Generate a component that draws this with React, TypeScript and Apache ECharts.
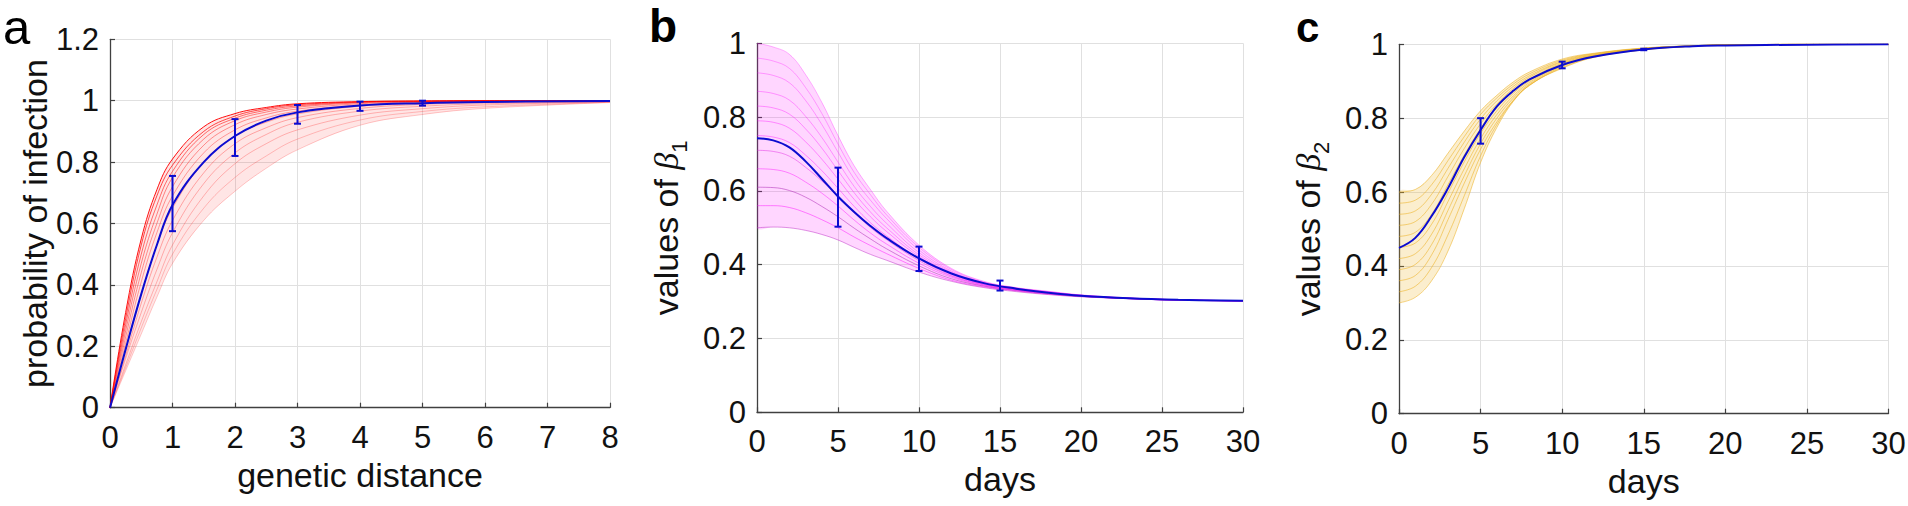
import React, { useEffect, useRef } from "react";
import * as echarts from "echarts";

// ---------------- data ----------------
// panel a: probability of infection vs genetic distance
const A_X = [0, 0.25, 0.5, 0.75, 1, 1.5, 2, 2.5, 3, 4, 5, 6, 8];
const A_CURVES = [
  [0, 0.31, 0.55, 0.71, 0.81, 0.915, 0.958, 0.978, 0.99, 0.997, 0.999, 1, 1],
  [0, 0.29, 0.53, 0.69, 0.79, 0.9, 0.95, 0.974, 0.987, 0.996, 0.999, 1, 1],
  [0, 0.27, 0.5, 0.66, 0.77, 0.89, 0.943, 0.969, 0.983, 0.995, 0.998, 0.999, 1],
  [0, 0.25, 0.47, 0.63, 0.75, 0.875, 0.935, 0.963, 0.979, 0.993, 0.997, 0.999, 1],
  [0, 0.23, 0.44, 0.6, 0.72, 0.855, 0.922, 0.955, 0.973, 0.99, 0.996, 0.998, 1],
  [0, 0.21, 0.41, 0.57, 0.69, 0.83, 0.905, 0.944, 0.966, 0.986, 0.994, 0.997, 0.999],
  [0, 0.19, 0.37, 0.53, 0.65, 0.8, 0.885, 0.93, 0.957, 0.982, 0.992, 0.996, 0.999],
  [0, 0.17, 0.34, 0.49, 0.61, 0.765, 0.86, 0.912, 0.945, 0.975, 0.988, 0.994, 0.998],
  [0, 0.16, 0.31, 0.45, 0.57, 0.73, 0.83, 0.89, 0.93, 0.966, 0.982, 0.99, 0.997],
  [0, 0.14, 0.28, 0.41, 0.53, 0.69, 0.795, 0.86, 0.905, 0.953, 0.974, 0.986, 0.996],
  [0, 0.13, 0.26, 0.385, 0.5, 0.65, 0.75, 0.82, 0.875, 0.937, 0.965, 0.98, 0.995],
  [0, 0.12, 0.24, 0.36, 0.47, 0.61, 0.705, 0.78, 0.84, 0.92, 0.955, 0.975, 0.994],
];
const A_OPAC = [0.95, 0.7, 0.55, 0.45, 0.4, 0.35, 0.3, 0.3, 0.27, 0.25, 0.22, 0.2];
const A_MEAN = [0, 0.19, 0.37, 0.53, 0.66, 0.8, 0.885, 0.935, 0.962, 0.984, 0.992, 0.996, 0.999];
const A_ERR = [
  [1, 0.575, 0.755],
  [2, 0.82, 0.94],
  [3, 0.925, 0.986],
  [4, 0.967, 0.997],
  [5, 0.984, 1.0],
];

// panel b: values of beta1 vs days
const B_X = [0, 1, 2, 3, 4, 5, 6, 7, 8, 10, 12, 14, 16, 18, 20, 23, 26, 30];
const B_CURVES = [
  [1.0, 0.99, 0.97, 0.915, 0.84, 0.75, 0.668, 0.604, 0.545, 0.453, 0.39, 0.355, 0.338, 0.328, 0.318, 0.31, 0.305, 0.302],
  [0.96, 0.952, 0.932, 0.88, 0.81, 0.727, 0.65, 0.59, 0.535, 0.447, 0.387, 0.353, 0.337, 0.327, 0.318, 0.31, 0.305, 0.302],
  [0.92, 0.913, 0.893, 0.845, 0.78, 0.705, 0.632, 0.575, 0.525, 0.44, 0.383, 0.351, 0.336, 0.326, 0.317, 0.309, 0.305, 0.302],
  [0.87, 0.864, 0.846, 0.802, 0.745, 0.678, 0.612, 0.558, 0.512, 0.433, 0.38, 0.35, 0.335, 0.325, 0.317, 0.309, 0.305, 0.302],
  [0.83, 0.825, 0.808, 0.768, 0.716, 0.655, 0.595, 0.543, 0.5, 0.427, 0.377, 0.348, 0.334, 0.324, 0.316, 0.309, 0.305, 0.302],
  [0.79, 0.786, 0.77, 0.733, 0.686, 0.632, 0.577, 0.53, 0.49, 0.422, 0.374, 0.347, 0.333, 0.324, 0.316, 0.309, 0.305, 0.302],
  [0.75, 0.746, 0.731, 0.697, 0.655, 0.607, 0.558, 0.514, 0.478, 0.416, 0.371, 0.346, 0.333, 0.323, 0.316, 0.308, 0.304, 0.302],
  [0.71, 0.707, 0.694, 0.664, 0.627, 0.585, 0.541, 0.501, 0.468, 0.411, 0.369, 0.345, 0.332, 0.323, 0.315, 0.308, 0.304, 0.302],
  [0.66, 0.658, 0.648, 0.624, 0.594, 0.559, 0.521, 0.486, 0.456, 0.404, 0.366, 0.343, 0.331, 0.322, 0.315, 0.308, 0.304, 0.302],
  [0.61, 0.609, 0.601, 0.583, 0.558, 0.53, 0.499, 0.47, 0.443, 0.397, 0.362, 0.342, 0.33, 0.321, 0.314, 0.308, 0.304, 0.302],
  [0.56, 0.56, 0.555, 0.541, 0.522, 0.5, 0.475, 0.452, 0.43, 0.39, 0.358, 0.34, 0.329, 0.32, 0.314, 0.308, 0.304, 0.302],
  [0.5, 0.502, 0.5, 0.493, 0.482, 0.467, 0.447, 0.428, 0.412, 0.38, 0.355, 0.338, 0.327, 0.319, 0.313, 0.308, 0.304, 0.302],
];
const B_COLORS = ["#ff00ff", "#ff00ff", "#ff00ff", "#ff00ff", "#ff00ff", "#ff00ff", "#ff00ff", "#e020e0", "#ff00ff", "#b030b8", "#ff00ff", "#c030c8"];
const B_OPAC = [0.3, 0.3, 0.32, 0.34, 0.36, 0.38, 0.4, 0.45, 0.42, 0.55, 0.45, 0.5];
const B_MEAN = [0.743, 0.737, 0.718, 0.68, 0.633, 0.585, 0.543, 0.505, 0.472, 0.417, 0.376, 0.35, 0.335, 0.324, 0.316, 0.309, 0.305, 0.302];
const B_ERR = [
  [5, 0.503, 0.663],
  [10, 0.383, 0.449],
  [15, 0.33, 0.357],
];

// panel c: values of beta2 vs days
const C_X = [0, 1, 2, 3, 4, 5, 6, 7, 8, 10, 12, 15, 18, 20, 25, 30];
const C_CURVES = [
  [0.6, 0.607, 0.645, 0.705, 0.765, 0.82, 0.862, 0.898, 0.925, 0.96, 0.976, 0.99, 0.996, 0.998, 1, 1],
  [0.57, 0.578, 0.62, 0.685, 0.75, 0.81, 0.855, 0.892, 0.92, 0.957, 0.975, 0.989, 0.996, 0.998, 1, 1],
  [0.54, 0.549, 0.594, 0.664, 0.735, 0.798, 0.847, 0.886, 0.915, 0.954, 0.974, 0.989, 0.996, 0.998, 1, 1],
  [0.51, 0.52, 0.567, 0.642, 0.718, 0.785, 0.838, 0.88, 0.911, 0.952, 0.972, 0.988, 0.996, 0.998, 1, 1],
  [0.48, 0.491, 0.54, 0.62, 0.7, 0.772, 0.829, 0.873, 0.906, 0.949, 0.971, 0.988, 0.995, 0.998, 1, 1],
  [0.45, 0.462, 0.513, 0.597, 0.682, 0.759, 0.82, 0.867, 0.901, 0.947, 0.97, 0.987, 0.995, 0.998, 1, 1],
  [0.42, 0.433, 0.486, 0.574, 0.663, 0.745, 0.81, 0.86, 0.897, 0.944, 0.969, 0.987, 0.995, 0.998, 1, 1],
  [0.39, 0.404, 0.458, 0.55, 0.644, 0.731, 0.8, 0.854, 0.893, 0.942, 0.968, 0.986, 0.995, 0.998, 1, 1],
  [0.36, 0.374, 0.43, 0.525, 0.624, 0.716, 0.79, 0.848, 0.889, 0.94, 0.967, 0.986, 0.995, 0.998, 1, 1],
  [0.33, 0.345, 0.396, 0.484, 0.59, 0.698, 0.783, 0.847, 0.889, 0.937, 0.966, 0.985, 0.995, 0.998, 1, 1],
  [0.3, 0.315, 0.36, 0.44, 0.555, 0.68, 0.775, 0.845, 0.89, 0.935, 0.965, 0.985, 0.995, 0.998, 1, 1],
];
const C_MEAN = [0.449, 0.476, 0.535, 0.61, 0.695, 0.768, 0.832, 0.874, 0.905, 0.944, 0.967, 0.986, 0.995, 0.997, 0.999, 1.0];
const C_ERR = [
  [5, 0.731, 0.8],
  [10, 0.935, 0.953],
  [15, 0.984, 0.988],
];

const A_X_TICKS = { min: 0, max: 8, interval: 1 };
const A_Y_TICKS = { min: 0, max: 1.2, interval: 0.2 };
const BC_X_TICKS = { min: 0, max: 30, interval: 5 };
const BC_Y_TICKS = { min: 0, max: 1, interval: 0.2 };

// ---------------- styling ----------------
const FONT = "'Liberation Sans', Arial, Helvetica, sans-serif";
const SERIF = "'Liberation Serif', 'DejaVu Serif', serif";
const BLUE = "#0c0cd0";
const AXIS = "#404040";
const GRIDC = "#e0e0e0";

function xAxis(gi: number, t: any, name: string) {
  return {
    type: "value",
    gridIndex: gi,
    min: t.min,
    max: t.max,
    interval: t.interval,
    name,
    nameLocation: "middle",
    nameGap: 50,
    nameTextStyle: { color: "#111", fontSize: 34, fontFamily: FONT },
    axisLine: { show: true, onZero: false, lineStyle: { color: AXIS, width: 1.3 } },
    axisTick: { show: true, inside: true, length: 5, lineStyle: { color: AXIS, width: 1.2 } },
    splitLine: { show: true, lineStyle: { color: GRIDC, width: 1 } },
    axisLabel: { color: "#111", fontSize: 31, fontFamily: FONT, margin: 14 },
  };
}

function yAxis(gi: number, t: any, name: string, gap: number, rich?: any) {
  return {
    type: "value",
    gridIndex: gi,
    min: t.min,
    max: t.max,
    interval: t.interval,
    name,
    nameLocation: "middle",
    nameRotate: 90,
    nameGap: gap,
    nameTextStyle: { color: "#111", fontSize: 34, fontFamily: FONT, rich },
    axisLine: { show: true, onZero: false, lineStyle: { color: AXIS, width: 1.3 } },
    axisTick: { show: true, inside: true, length: 5, lineStyle: { color: AXIS, width: 1.2 } },
    splitLine: { show: true, lineStyle: { color: GRIDC, width: 1 } },
    axisLabel: { color: "#111", fontSize: 31, fontFamily: FONT, margin: 11 },
  };
}

function betaRich() {
  return {
    t: { fontSize: 34, fontFamily: FONT, color: "#111" },
    g: { fontSize: 34, fontFamily: SERIF, fontStyle: "italic", color: "#111" },
    s: { fontSize: 22, fontFamily: FONT, color: "#111", verticalAlign: "bottom", padding: [26, 0, 0, 0] },
  };
}

function pairs(xs: number[], ys: number[]) {
  return xs.map((x, i) => [x, ys[i]]);
}

function lineSeries(gi: number, xs: number[], ys: number[], color: string, width: number, opacity: number, z: number) {
  return {
    type: "line",
    xAxisIndex: gi,
    yAxisIndex: gi,
    data: pairs(xs, ys),
    smooth: 0.4,
    showSymbol: false,
    symbol: "none",
    silent: true,
    lineStyle: { color, width, opacity },
    z,
  };
}

// translucent fill between the lowest and highest curve of a panel
function bandSeries(gi: number, xs: number[], lower: number[], upper: number[], color: string) {
  return {
    type: "custom",
    xAxisIndex: gi,
    yAxisIndex: gi,
    data: [[xs[0], upper[0]]],
    encode: { x: 0, y: 1 },
    silent: true,
    clip: true,
    z: 1,
    renderItem: (params: any, api: any) => {
      const pts: number[][] = [];
      for (let i = 0; i < xs.length; i++) pts.push(api.coord([xs[i], upper[i]]));
      for (let i = xs.length - 1; i >= 0; i--) {
        if (upper[i] === lower[i] && (i === 0 || i === xs.length - 1)) continue;
        pts.push(api.coord([xs[i], lower[i]]));
      }
      return {
        type: "polygon",
        shape: {
          points: pts,
          smooth: 0.3,
          smoothConstraint: [
            [Infinity, Infinity],
            [-Infinity, -Infinity],
          ],
        },
        style: { fill: color, stroke: "none" },
      };
    },
  };
}

function errSeries(gi: number, data: number[][]) {
  return {
    type: "custom",
    xAxisIndex: gi,
    yAxisIndex: gi,
    data,
    silent: true,
    z: 5,
    encode: { x: 0, y: [1, 2] },
    renderItem: (params: any, api: any) => {
      const x = api.value(0);
      const lo = api.value(1);
      const hi = api.value(2);
      const a = api.coord([x, lo]);
      const b = api.coord([x, hi]);
      const w = 3.5;
      const style = { stroke: BLUE, lineWidth: 2, fill: "none" };
      return {
        type: "group",
        children: [
          { type: "line", shape: { x1: a[0], y1: a[1], x2: b[0], y2: b[1] }, style },
          { type: "line", shape: { x1: a[0] - w, y1: a[1], x2: a[0] + w, y2: a[1] }, style },
          { type: "line", shape: { x1: b[0] - w, y1: b[1], x2: b[0] + w, y2: b[1] }, style },
        ],
      };
    },
  };
}

function buildOption() {
  const series: any[] = [];
  // panel a
  series.push(bandSeries(0, A_X, A_CURVES[A_CURVES.length - 1], A_CURVES[0], "rgba(255,0,0,0.10)"));
  for (let k = A_CURVES.length - 1; k >= 0; k--) {
    series.push(lineSeries(0, A_X, A_CURVES[k], "#ff0000", 1, A_OPAC[k], 2));
  }
  series.push(lineSeries(0, A_X, A_MEAN, BLUE, 2, 1, 4));
  series.push(errSeries(0, A_ERR));
  // panel b
  series.push(bandSeries(1, B_X, B_CURVES[B_CURVES.length - 1], B_CURVES[0], "rgba(255,0,255,0.16)"));
  for (let k = 0; k < B_CURVES.length; k++) {
    series.push(lineSeries(1, B_X, B_CURVES[k], B_COLORS[k], 1, B_OPAC[k], 2));
  }
  series.push(lineSeries(1, B_X, B_MEAN, BLUE, 2, 1, 4));
  series.push(errSeries(1, B_ERR));
  // panel c
  series.push(bandSeries(2, C_X, C_CURVES[C_CURVES.length - 1], C_CURVES[0], "rgba(237,177,32,0.22)"));
  for (let k = 0; k < C_CURVES.length; k++) {
    series.push(lineSeries(2, C_X, C_CURVES[k], "#edb120", 1, 0.55, 2));
  }
  series.push(lineSeries(2, C_X, C_MEAN, BLUE, 2, 1, 4));
  series.push(errSeries(2, C_ERR));

  return {
    animation: false,
    backgroundColor: "#ffffff",
    textStyle: { fontFamily: FONT },
    grid: [
      { left: 110, top: 39.3, width: 500, height: 368.4, containLabel: false, outerBoundsMode: "none" },
      { left: 757, top: 43.3, width: 486, height: 369, containLabel: false, outerBoundsMode: "none" },
      { left: 1399, top: 44.3, width: 489.5, height: 369.4, containLabel: false, outerBoundsMode: "none" },
    ],
    xAxis: [
      xAxis(0, A_X_TICKS, "genetic distance"),
      xAxis(1, BC_X_TICKS, "days"),
      xAxis(2, BC_X_TICKS, "days"),
    ],
    yAxis: [
      yAxis(0, A_Y_TICKS, "probability of infection", 58),
      yAxis(1, BC_Y_TICKS, "{t|values of }{g|β}{s|1}", 67, betaRich()),
      yAxis(2, BC_Y_TICKS, "{t|values of }{g|β}{s|2}", 67, betaRich()),
    ],
    graphic: [
      { type: "text", x: 3, y: 2, style: { text: "a", fontSize: 49, fontFamily: FONT, fill: "#000", verticalAlign: "top" } },
      { type: "text", x: 649, y: 3, style: { text: "b", fontSize: 46, fontWeight: "bold", fontFamily: FONT, fill: "#000", verticalAlign: "top" } },
      { type: "text", x: 1296, y: 6, style: { text: "c", fontSize: 42, fontWeight: "bold", fontFamily: FONT, fill: "#000", verticalAlign: "top" } },
    ],
    series,
  };
}

export default function App() {
  const ref = useRef<HTMLDivElement>(null);
  useEffect(() => {
    if (!ref.current) return;
    const chart = echarts.init(ref.current, undefined, { renderer: "svg" });
    chart.setOption(buildOption() as any);
    return () => {
      chart.dispose();
    };
  }, []);
  return (
    <div
      ref={ref}
      style={{ position: "fixed", left: 0, top: 0, width: 1908, height: 506, background: "#fff" }}
    />
  );
}
